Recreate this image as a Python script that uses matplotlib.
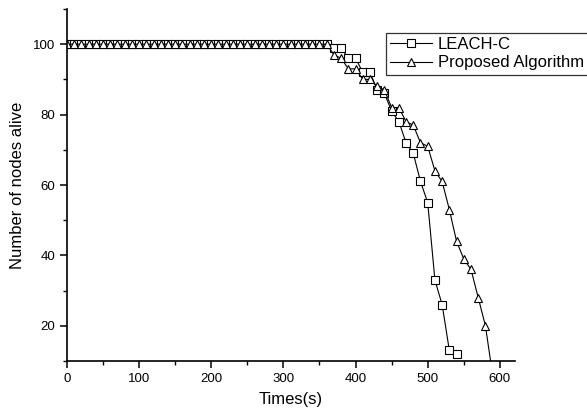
import matplotlib
matplotlib.use("Agg")
import matplotlib.pyplot as plt
from matplotlib.ticker import MultipleLocator

plt.rcParams['font.family'] = ['Liberation Sans', 'DejaVu Sans']

# sampling instants (s), one every 10 s
times_leach = list(range(0, 550, 10))
times_proposed = list(range(0, 600, 10))

# nodes alive over time
leach_c = [100, 100, 100, 100, 100, 100, 100, 100, 100, 100,
           100, 100, 100, 100, 100, 100, 100, 100, 100, 100,
           100, 100, 100, 100, 100, 100, 100, 100, 100, 100,
           100, 100, 100, 100, 100, 100, 100,
           99, 99, 96, 96, 92, 92, 87, 86, 81, 78,
           72, 69, 61, 55, 33, 26, 13, 12]
proposed = [100, 100, 100, 100, 100, 100, 100, 100, 100, 100,
            100, 100, 100, 100, 100, 100, 100, 100, 100, 100,
            100, 100, 100, 100, 100, 100, 100, 100, 100, 100,
            100, 100, 100, 100, 100, 100, 100,
            97, 96, 93, 93, 90, 90, 88, 87, 82, 82,
            78, 77, 72, 71, 64, 61, 53, 44, 39, 36,
            28, 20, 6]

fig = plt.figure(figsize=(5.87, 4.18), dpi=100)
ax = fig.add_axes([67 / 587, 1 - 361 / 418, 448 / 587, 352 / 418])

ax.plot(times_leach, leach_c, color='black', lw=0.8, marker='s', ms=5.4,
        mfc='white', mec='black', mew=0.8, label='LEACH-C')
ax.plot(times_proposed, proposed, color='black', lw=0.8, marker='^', ms=6.2,
        mfc='white', mec='black', mew=0.8, label='Proposed Algorithm')

ax.set_xlim(0, 621)
ax.set_ylim(10, 110)
ax.xaxis.set_major_locator(MultipleLocator(100))
ax.xaxis.set_minor_locator(MultipleLocator(50))
ax.yaxis.set_major_locator(MultipleLocator(20))
ax.yaxis.set_minor_locator(MultipleLocator(10))
ax.set_yticks([20, 40, 60, 80, 100])

for side in ('top', 'right'):
    ax.spines[side].set_visible(False)
for side in ('left', 'bottom'):
    ax.spines[side].set_linewidth(1.2)

ax.tick_params(which='major', direction='out', length=5, width=1.1, labelsize=9.5)
ax.tick_params(which='minor', direction='out', length=3, width=1.0)

ax.set_xlabel('Times(s)', fontsize=12, labelpad=5)
ax.set_ylabel('Number of nodes alive', fontsize=12, labelpad=6)

# legend sits against the right border and runs past it
leg = ax.legend(loc='upper left', bbox_to_anchor=(386 / 587, 1 - 33 / 418),
                bbox_transform=fig.transFigure, fontsize=12, frameon=True,
                fancybox=False, edgecolor='black', borderpad=0.25,
                labelspacing=0.2, handlelength=2.5, handletextpad=0.35,
                borderaxespad=0)
leg.get_frame().set_linewidth(0.9)

fig.savefig('out.png', dpi=100)
